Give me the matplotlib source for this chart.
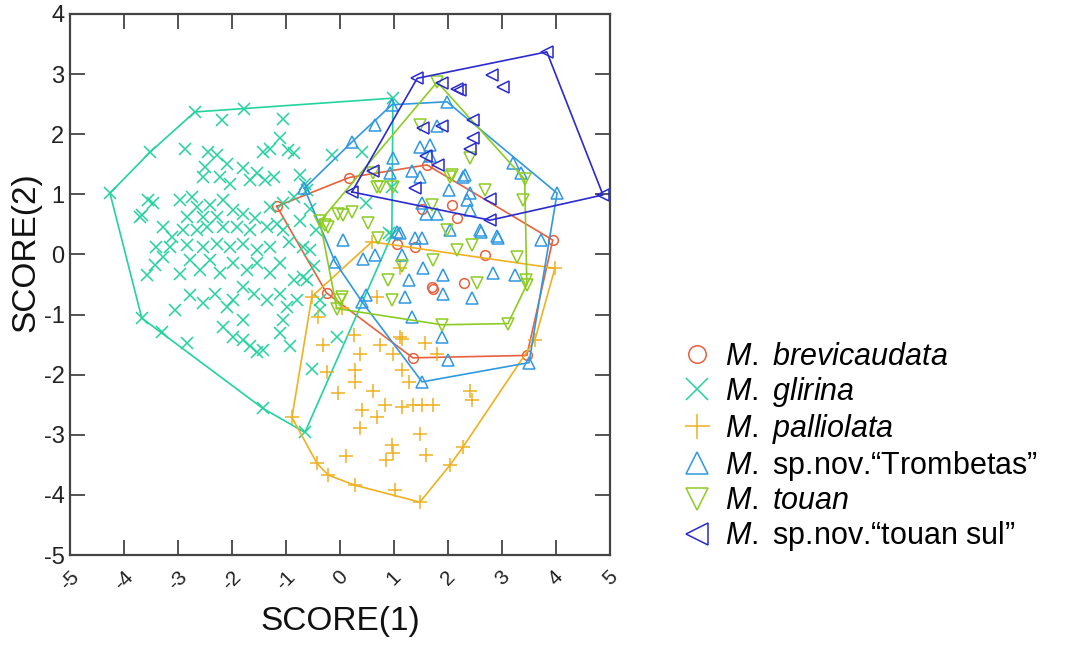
import numpy as np
import matplotlib
matplotlib.use("Agg")
import matplotlib.pyplot as plt
from matplotlib.lines import Line2D

plt.rcParams['font.family'] = ['Liberation Sans', 'DejaVu Sans']
plt.rcParams['mathtext.fontset'] = 'custom'
plt.rcParams['mathtext.rm'] = 'Liberation Sans'
plt.rcParams['mathtext.it'] = 'Liberation Sans:italic'
plt.rcParams['axes.unicode_minus'] = False

# ---------------- data (SCORE(1), SCORE(2)) ----------------
brev_x = [-1.17, 0.17, 1.61, 3.94, 3.46, 1.35, -0.25, 2.07, 2.17, 1.52, 1.06, 1.39, 2.69, 1.70, 1.73, 2.30]
brev_y = [0.80, 1.28, 1.49, 0.24, -1.68, -1.72, -0.64, 0.82, 0.60, 0.76, 0.17, 0.12, -0.01, -0.54, -0.57, -0.48]

glir_x = [-4.26, -3.52, -2.69, -1.78, 0.98, 0.96, -0.65, -1.43, -2.83, -3.30, -3.67,
          -2.19, -1.05, -1.11, -2.87, -2.44, -2.28, -1.42, -1.30, -0.96, -0.86, -2.50, -2.10,
          -1.79, -1.54, -1.23, -2.53, -2.22, -2.04, -1.67, -1.39, -0.74, -0.65, -3.46, -3.67,
          -2.96, -2.75, -2.65, -2.41, -2.16, -2.84, -2.53, -2.28, -1.98, -1.79, -1.57, -1.30,
          -1.05, -3.27, -3.12, -2.90, -2.65, -2.47, -2.16, -1.91, -1.67, -1.36, -1.17, -1.05,
          -3.40, -3.15, -2.84, -2.53, -2.28, -2.04, -1.79, -1.54, -1.30, -0.68,
          -3.58, -3.43, -3.27, -2.96, -2.78, -2.59, -2.41, -2.22, -1.98, -1.73, -1.54, -1.30,
          -1.11, -0.86, -0.68, -2.78, -3.06, -2.53, -2.31, -2.10, -1.98, -1.79, -1.60, -1.36,
          -1.11, -0.99, -0.80, -1.05, -1.79, -2.16, -1.98, -1.79, -1.67, -1.54, -1.42, -1.11,
          -0.93, -0.52, -0.15, 0.41, -0.62, 0.49, 0.96, 0.90, -0.56, -0.49, -0.62, -0.37,
          -0.37, -0.06, -0.85, -0.75, -0.95, -0.55, -0.45, -3.70, -3.55]
glir_y = [1.02, 1.70, 2.37, 2.42, 2.60, 0.32, -2.96, -2.56, -1.47, -1.29, -1.06,
          2.24, 2.25, 1.93, 1.75, 1.71, 1.65, 1.71, 1.76, 1.74, 1.68, 1.46, 1.51,
          1.43, 1.35, 1.29, 1.29, 1.29, 1.18, 1.24, 1.24, 1.32, 1.18, 0.85, 0.65,
          0.90, 0.96, 0.79, 0.82, 0.90, 0.62, 0.62, 0.62, 0.74, 0.68, 0.60, 0.79,
          0.85, 0.46, 0.29, 0.40, 0.40, 0.46, 0.46, 0.46, 0.40, 0.46, 0.51, 0.40,
          0.13, 0.13, 0.15, 0.13, 0.18, 0.13, 0.18, 0.07, 0.13, 0.13,
          -0.34, -0.18, -0.04, -0.32, -0.09, -0.26, -0.09, -0.31, -0.15, -0.26, -0.15, -0.31,
          -0.15, -0.43, -0.37, -0.68, -0.93, -0.81, -0.65, -0.87, -0.76, -0.54, -0.65, -0.76,
          -0.65, -0.87, -0.76, -1.09, -1.09, -1.20, -1.37, -1.42, -1.53, -1.62, -1.59, -1.31,
          -1.53, -1.90, 1.65, 1.70, 1.07, 0.85, 1.13, 0.35, 0.07, -0.20, -0.43, -0.76,
          -0.92, -1.37, 0.95, 0.55, 0.20, 0.75, 0.40, 0.62, 0.90]

pall_x = [-0.52, 0.59, 3.98, 3.61, 2.28, 2.04, 1.48, 0.28, -0.22, -0.43, -0.89,
          -0.31, 0.25, 0.37, 0.28, 0.28, 0.74, 1.14, 0.99, 1.14, 1.27, 1.57, 1.79, -0.25,
          -0.03, 0.62, 0.83, 1.14, 1.36, 1.51, 1.73, 2.41, 2.44, 0.40, 0.68, 0.37, 1.48,
          0.96, 0.99, 0.86, 0.12, 1.60, 1.02, 1.11, 0.68, -0.41, 0.04, 1.11]
pall_y = [-0.70, 0.21, -0.23, -1.42, -3.20, -3.50, -4.12, -3.84, -3.67, -3.47, -2.71,
          -1.51, -1.34, -1.65, -1.92, -2.12, -1.51, -1.40, -1.65, -1.92, -2.12, -1.48, -1.65, -1.95,
          -2.31, -2.28, -2.50, -2.53, -2.51, -2.51, -2.51, -2.28, -2.42, -2.59, -2.70, -2.89, -2.98,
          -3.17, -3.31, -3.42, -3.36, -3.34, -3.92, -0.23, -0.70, -1.04, -0.89, -1.37]

trom_x = [-0.66, 0.22, 0.65, 0.96, 1.98, 4.02, 3.50, 1.52, 0.41, -0.09,
          2.01, 2.35, 2.41, 1.60, 1.79, 1.51, 2.62, 2.93, 3.73, 1.05, 1.11, 1.39, 1.51, 2.04,
          0.43, 0.65, 1.14, 1.54, 1.91, 2.84, 3.24, 1.27, 0.49, 1.20, 1.91, 2.44, 1.33, 1.88,
          1.79, 1.48, 1.67, 0.99, 1.33, 1.48, 2.28, 0.93, 2.41, 1.67, 3.21, 3.36, 2.31, 2.59,
          2.90, 0.06, 2.00]
trom_y = [1.10, 1.87, 2.15, 2.49, 2.54, 1.02, -1.80, -2.12, -0.79, -0.13,
          1.07, 0.91, 0.74, 0.68, 0.68, 0.85, 0.38, 0.27, 0.24, 0.38, 0.35, 0.27, 0.27, 0.41,
          -0.07, -0.01, -0.01, -0.23, -0.34, -0.31, -0.34, -0.43, -0.68, -0.70, -0.65, -0.73, -1.04, -1.37,
          2.13, 1.79, 1.63, 1.60, 1.38, 1.29, 1.29, 1.35, 1.02, 1.82, 1.52, 1.35, 1.32, 0.41,
          0.30, 0.24, -1.76]

toua_x = [1.80, 3.42, 3.46, 3.11, 1.89, -0.06, -0.37,
          -0.28, 0.06, 0.22, 0.52, 0.71, 0.68, 1.70, 1.98, 2.16, 2.44, 1.73, 1.14, 0.89, 0.96,
          2.53, 3.27, 3.44, 2.69, 3.38, 0.03, 1.48, 2.41, 2.07, 0.62, 0.74, 0.99, 2.04, -0.03,
          -0.22, 0.00]
toua_y = [2.87, 1.25, -0.50, -1.15, -1.17, -0.90, 0.55,
          0.49, 0.66, 0.71, 0.52, 0.27, 1.13, 0.82, 0.41, 0.07, 0.16, -0.09, -0.20, -0.43, -0.76,
          -0.48, -0.04, -0.43, 1.07, 0.90, -0.70, 2.15, 1.60, 1.32, 1.35, 1.13, 1.13, 1.29, 0.68,
          0.46, -0.76]

sul_x = [1.43, 3.83, 4.87, 2.78, 0.22, 2.81, 3.02, 2.22, 2.47, 2.47, 2.41, 1.88, 2.16,
         1.54, 1.88, 1.60, 1.82, 0.62, 1.39, 2.78]
sul_y = [2.93, 3.37, 0.99, 0.57, 1.04, 2.98, 2.79, 2.74, 2.24, 1.93, 1.76, 2.85, 2.76,
         2.10, 2.13, 1.63, 1.49, 1.38, 1.10, 0.93]

labels = [r'$\mathit{M.}$ $\mathit{brevicaudata}$', r'$\mathit{M.}$ $\mathit{glirina}$',
          r'$\mathit{M.}$ $\mathit{palliolata}$', r'$\mathit{M.}$ sp.nov.“Trombetas”',
          r'$\mathit{M.}$ $\mathit{touan}$', r'$\mathit{M.}$ sp.nov.“touan sul”']
colors = ['#e8603c', '#22d3a0', '#f0b020', '#2f98e2', '#8ccc22', '#2a2ad0']
markers = ['o', 'x', '+', '^', 'v', '<']
sizes = [7, 9, 10, 8.5, 8.5, 8.5]

groups = [(brev_x, brev_y), (glir_x, glir_y), (pall_x, pall_y),
          (trom_x, trom_y), (toua_x, toua_y), (sul_x, sul_y)]


def convex_hull(xs, ys):
    pts = sorted(set(zip(xs, ys)))

    def cross(o, a, b):
        return (a[0] - o[0]) * (b[1] - o[1]) - (a[1] - o[1]) * (b[0] - o[0])

    lower, upper = [], []
    for p in pts:
        while len(lower) >= 2 and cross(lower[-2], lower[-1], p) <= 0:
            lower.pop()
        lower.append(p)
    for p in reversed(pts):
        while len(upper) >= 2 and cross(upper[-2], upper[-1], p) <= 0:
            upper.pop()
        upper.append(p)
    h = lower[:-1] + upper[:-1]
    h.append(h[0])
    return np.array(h)


fig = plt.figure(figsize=(10.77, 6.49), dpi=100)
ax = fig.add_axes([70 / 1077, 94 / 649, 540 / 1077, 541 / 649])

for (gx, gy), c, m, s in zip(groups, colors, markers, sizes):
    ax.plot(gx, gy, linestyle='none', marker=m, markersize=s, markerfacecolor='none',
            markeredgecolor=c, markeredgewidth=1.1)
    h = convex_hull(gx, gy)
    ax.plot(h[:, 0], h[:, 1], color=c, lw=1.2)

ax.set_xlim(-5, 5)
ax.set_ylim(-5, 4)
ax.set_xticks(range(-5, 6))
ax.set_yticks(range(-5, 5))
ax.tick_params(direction='in', length=11, width=1.3, top=True, right=True,
               color='#444444', labelcolor='#222222')
ax.tick_params(axis='y', labelsize=17, pad=4)
ax.tick_params(axis='x', labelsize=15, pad=9, labelrotation=45)
for sp in ax.spines.values():
    sp.set_color('#444444')
    sp.set_linewidth(1.6)

ax.set_xlabel('SCORE(1)', fontsize=24, color='#111111')
ax.set_ylabel('SCORE(2)', fontsize=24, color='#111111')
ax.xaxis.set_label_coords(0.5, -0.095)
ax.yaxis.set_label_coords(-0.052, 0.56)

handles = [Line2D([], [], linestyle='none', marker=m, markersize=s * 1.8,
                  markerfacecolor='none', markeredgecolor=c, markeredgewidth=1.1)
           for c, m, s in zip(colors, markers, sizes)]
fig.legend(handles, labels, loc='upper left', bbox_to_anchor=(682 / 1077, 1 - 342 / 649),
           frameon=False, fontsize=22, labelspacing=0.1, handlelength=1.0,
           handletextpad=0.4, borderpad=0, borderaxespad=0)

fig.savefig('out.png', dpi=100)
